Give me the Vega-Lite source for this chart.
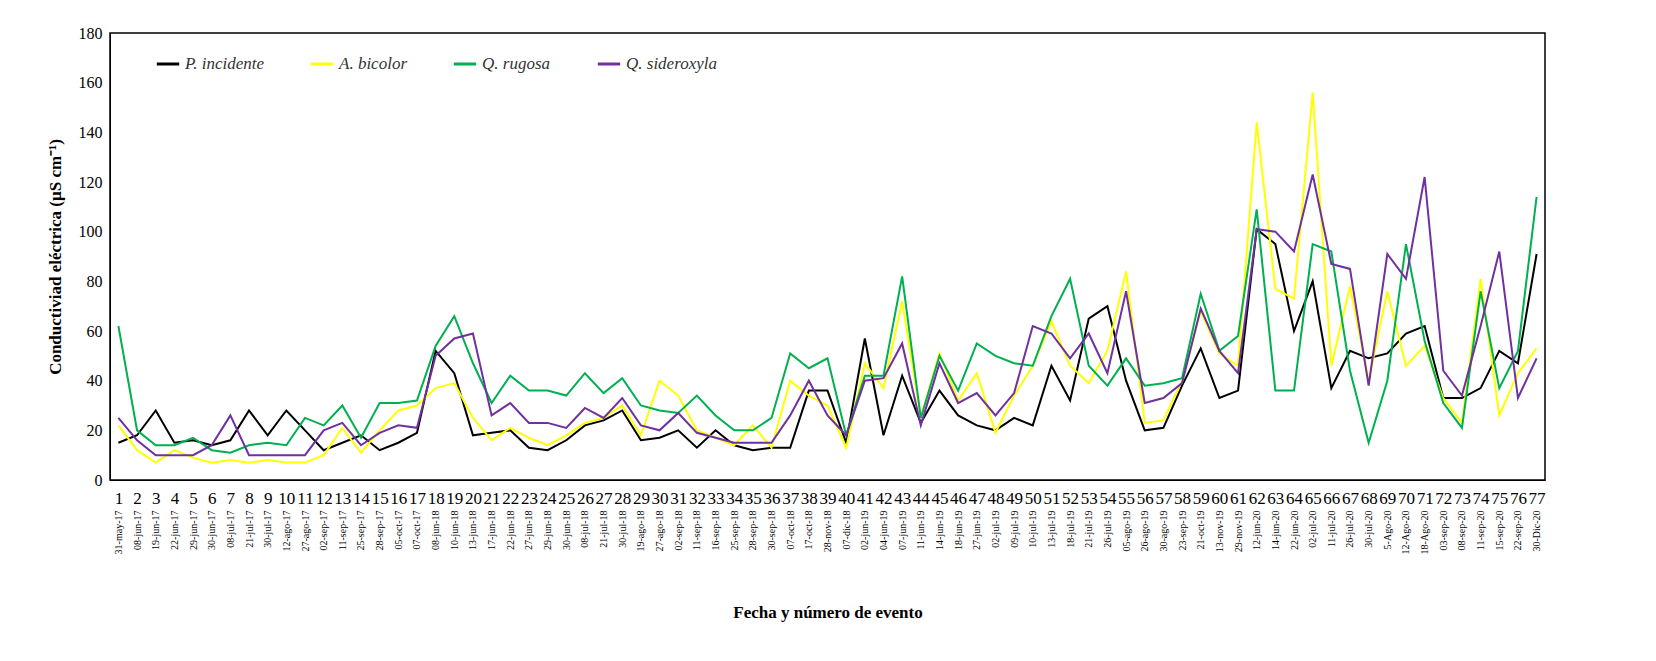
{
"$schema":"https://vega.github.io/schema/vega-lite/v6.json",
"width":1435,"height":447,"autosize":{"type":"none"},
"padding":{"left":110,"top":33,"right":111,"bottom":181},
"background":"white",
"config":{"font":"Liberation Serif","view":{"stroke":"black","strokeWidth":1.5}},
"data":{"values":[
{"k":"1|31-may-17","P":15,"A":22,"R":62,"S":25},
{"k":"2|08-jun-17","P":18,"A":12,"R":20,"S":16},
{"k":"3|19-jun-17","P":28,"A":7,"R":14,"S":10},
{"k":"4|22-jun-17","P":15,"A":12,"R":14,"S":10},
{"k":"5|29-jun-17","P":16,"A":9,"R":17,"S":10},
{"k":"6|30-jun-17","P":14,"A":7,"R":12,"S":14},
{"k":"7|08-jul-17","P":16,"A":8,"R":11,"S":26},
{"k":"8|21-jul-17","P":28,"A":7,"R":14,"S":10},
{"k":"9|30-jul-17","P":18,"A":8,"R":15,"S":10},
{"k":"10|12-ago-17","P":28,"A":7,"R":14,"S":10},
{"k":"11|27-ago-17","P":20,"A":7,"R":25,"S":10},
{"k":"12|02-sep-17","P":12,"A":10,"R":22,"S":20},
{"k":"13|11-sep-17","P":15,"A":21,"R":30,"S":23},
{"k":"14|25-sep-17","P":18,"A":11,"R":17,"S":14},
{"k":"15|28-sep-17","P":12,"A":20,"R":31,"S":19},
{"k":"16|05-oct-17","P":15,"A":28,"R":31,"S":22},
{"k":"17|07-oct-17","P":19,"A":30,"R":32,"S":21},
{"k":"18|08-jun-18","P":52,"A":37,"R":54,"S":50},
{"k":"19|10-jun-18","P":43,"A":39,"R":66,"S":57},
{"k":"20|13-jun-18","P":18,"A":25,"R":47,"S":59},
{"k":"21|17-jun-18","P":19,"A":16,"R":31,"S":26},
{"k":"22|22-jun-18","P":20,"A":21,"R":42,"S":31},
{"k":"23|27-jun-18","P":13,"A":17,"R":36,"S":23},
{"k":"24|29-jun-18","P":12,"A":14,"R":36,"S":23},
{"k":"25|30-jun-18","P":16,"A":18,"R":34,"S":21},
{"k":"26|08-jul-18","P":22,"A":23,"R":43,"S":29},
{"k":"27|21-jul-18","P":24,"A":25,"R":35,"S":25},
{"k":"28|30-jul-18","P":28,"A":30,"R":41,"S":33},
{"k":"29|19-ago-18","P":16,"A":18,"R":30,"S":22},
{"k":"30|27-ago-18","P":17,"A":40,"R":28,"S":20},
{"k":"31|02-sep-18","P":20,"A":34,"R":27,"S":27},
{"k":"32|11-sep-18","P":13,"A":20,"R":34,"S":19},
{"k":"33|16-sep-18","P":20,"A":17,"R":26,"S":17},
{"k":"34|25-sep-18","P":14,"A":14,"R":20,"S":15},
{"k":"35|28-sep-18","P":12,"A":22,"R":20,"S":15},
{"k":"36|30-sep-18","P":13,"A":13,"R":25,"S":15},
{"k":"37|07-oct-18","P":13,"A":40,"R":51,"S":26},
{"k":"38|17-oct-18","P":36,"A":34,"R":45,"S":40},
{"k":"39|28-nov-18","P":36,"A":30,"R":49,"S":26},
{"k":"40|07-dic-18","P":15,"A":13,"R":18,"S":18},
{"k":"41|02-jun-19","P":57,"A":47,"R":42,"S":40},
{"k":"42|04-jun-19","P":18,"A":37,"R":42,"S":41},
{"k":"43|07-jun-19","P":42,"A":72,"R":82,"S":55},
{"k":"44|11-jun-19","P":23,"A":25,"R":25,"S":22},
{"k":"45|14-jun-19","P":36,"A":51,"R":50,"S":47},
{"k":"46|18-jun-19","P":26,"A":32,"R":36,"S":31},
{"k":"47|27-jun-19","P":22,"A":43,"R":55,"S":35},
{"k":"48|02-jul-19","P":20,"A":19,"R":50,"S":26},
{"k":"49|09-jul-19","P":25,"A":34,"R":47,"S":35},
{"k":"50|10-jul-19","P":22,"A":46,"R":46,"S":62},
{"k":"51|13-jul-19","P":46,"A":64,"R":66,"S":59},
{"k":"52|18-jul-19","P":32,"A":46,"R":81,"S":49},
{"k":"53|21-jul-19","P":65,"A":39,"R":46,"S":59},
{"k":"54|26-jul-19","P":70,"A":52,"R":38,"S":43},
{"k":"55|05-ago-19","P":40,"A":84,"R":49,"S":76},
{"k":"56|26-ago-19","P":20,"A":23,"R":38,"S":31},
{"k":"57|30-ago-19","P":21,"A":24,"R":39,"S":33},
{"k":"58|23-sep-19","P":38,"A":40,"R":41,"S":39},
{"k":"59|21-oct-19","P":53,"A":68,"R":75,"S":69},
{"k":"60|13-nov-19","P":33,"A":51,"R":52,"S":52},
{"k":"61|29-nov-19","P":36,"A":46,"R":58,"S":43},
{"k":"62|12-jun-20","P":101,"A":144,"R":109,"S":101},
{"k":"63|14-jun-20","P":95,"A":77,"R":36,"S":100},
{"k":"64|22-jun-20","P":60,"A":73,"R":36,"S":92},
{"k":"65|02-jul-20","P":80,"A":156,"R":95,"S":123},
{"k":"66|11-jul-20","P":37,"A":46,"R":92,"S":87},
{"k":"67|26-jul-20","P":52,"A":78,"R":44,"S":85},
{"k":"68|30-jul-20","P":49,"A":40,"R":15,"S":38},
{"k":"69|5-Ago-20","P":51,"A":76,"R":40,"S":91},
{"k":"70|12-Ago-20","P":59,"A":46,"R":95,"S":81},
{"k":"71|18-Ago-20","P":62,"A":54,"R":56,"S":122},
{"k":"72|03-sep-20","P":33,"A":33,"R":31,"S":44},
{"k":"73|08-sep-20","P":33,"A":23,"R":21,"S":34},
{"k":"74|11-sep-20","P":37,"A":81,"R":76,"S":62},
{"k":"75|15-sep-20","P":52,"A":26,"R":37,"S":92},
{"k":"76|22-sep-20","P":47,"A":43,"R":52,"S":33},
{"k":"77|30-Dic-20","P":91,"A":53,"R":114,"S":49}
]},
"transform":[{"fold":["P","A","R","S"],"as":["sp","v"]}],
"layer":[
{"mark":{"type":"line","strokeWidth":2},
 "encoding":{
  "x":{"field":"k","type":"ordinal","sort":null,"scale":{"type":"point","padding":0.45},
   "axis":{"title":"Fecha y número de evento","titleFont":"Liberation Serif","titleFontSize":17,"titleFontWeight":"bold","titlePadding":98,"labelAngle":0,"labelFontSize":17,"labelColor":"black","labelPadding":10,"ticks":false,"domainColor":"black","labelExpr":"split(datum.value,'|')[0]"}},
  "y":{"field":"v","type":"quantitative","scale":{"domain":[0,180]},
   "axis":{"values":[0,20,40,60,80,100,120,140,160,180],"grid":false,"ticks":false,"domainColor":"black","labelFontSize":16,"labelColor":"black","labelPadding":8,"title":"Conductiviad  eléctrica  (µS cm⁻¹)","titleFontSize":17,"titleFontWeight":"bold","titlePadding":14,"titleColor":"black"}},
  "color":{"field":"sp","type":"nominal","sort":["P","A","R","S"],
   "scale":{"domain":["P","A","R","S"],"range":["#000000","#ffff00","#00b050","#7030a0"]},
   "legend":{"title":null,"orient":"none","legendX":45,"legendY":18,"direction":"horizontal","symbolType":"stroke","symbolStrokeWidth":3,"symbolSize":500,"labelFontSize":17,"labelFontStyle":"italic","labelColor":"#333","columnPadding":40,
    "labelExpr":"datum.value=='P'?'P. incidente':datum.value=='A'?'A. bicolor':datum.value=='R'?'Q. rugosa':'Q. sideroxyla'"}},
  "strokeWidth":{"condition":{"test":"datum.sp=='P'","value":3.5},"value":2}
 }},
{"mark":{"type":"rule","opacity":0},
 "encoding":{
  "x":{"field":"k","type":"ordinal","sort":null,
   "axis":{"title":null,"orient":"bottom","offset":30,"domain":false,"ticks":false,"labelAngle":-90,"labelAlign":"right","labelBaseline":"middle","labelFontSize":10,"labelColor":"black","labelPadding":0,"labelExpr":"split(datum.value,'|')[1]"}}
 }}
],
"resolve":{"axis":{"x":"independent"}}
}
